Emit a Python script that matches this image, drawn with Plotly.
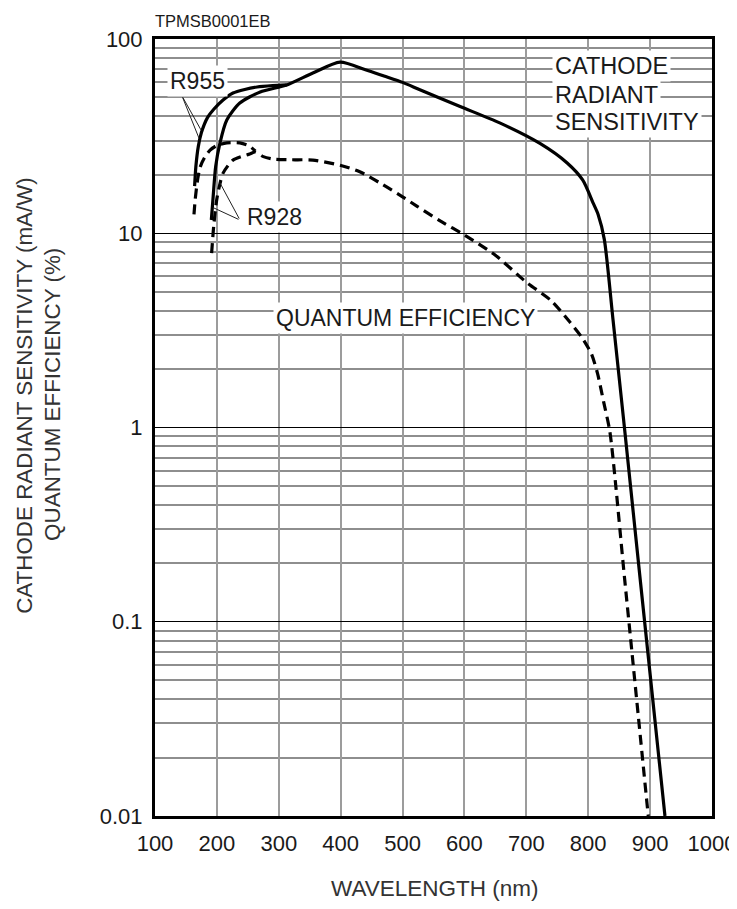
import plotly.graph_objects as go

# ---------------- data ----------------
r955_rad_nm = [164, 166, 170, 175, 185, 195, 210, 226, 245, 265, 290, 313]
r955_rad = [17.5, 22, 28, 33, 39.5, 43.5, 48.5, 52.7, 55, 56.6, 57.5, 58]

r928_rad_nm = [191, 194, 198, 205, 216, 237, 270, 313, 355, 399, 440, 470, 500, 528,
               593, 657, 722, 766, 791, 808, 816, 826, 840, 860, 884, 924]
r928_rad = [11.7, 15.5, 22, 29.2, 38.3, 46.8, 53.4, 58, 66.8, 76, 69.5, 64.5, 59.8, 54.8,
            44.9, 37, 29, 23, 18.8, 14.3, 12.5, 9.3, 3.6, 0.9, 0.165, 0.01]

r955_qe_nm = [163, 165, 169, 173, 180, 189, 200, 216, 237, 252, 262]
r955_qe = [12.5, 15, 19, 21.9, 24.5, 26.8, 28.3, 29.2, 29.2, 28.2, 26.5]

r928_qe_nm = [191.5, 195, 199.6, 205, 210, 226, 253, 262, 275, 291, 320, 355, 399,
              430, 468, 500, 523, 560, 600, 650, 700, 740, 770, 790, 805, 815, 825,
              835, 859, 897]
r928_qe = [7.9, 11, 14.8, 18, 20.4, 23.8, 25.6, 26.2, 24.8, 24.1, 23.9, 23.8, 22.4,
           20.8, 17.8, 15.4, 13.8, 11.6, 9.8, 7.7, 5.6, 4.5, 3.5, 2.9, 2.4, 1.9, 1.35,
           0.95, 0.164, 0.01]

x_ticks = [100, 200, 300, 400, 500, 600, 700, 800, 900, 1000]
x_tick_text = ["100", "200", "300", "400", "500", "600", "700", "800", "900", "1000"]
y_ticks = [0.01, 0.1, 1, 10, 100]
y_tick_text = ["0.01", "0.1", "1", "10", "100"]
y_minor = [m * d for d in (0.01, 0.1, 1, 10) for m in range(2, 10)]
dark_grid_x = [400]

FONT = "Liberation Sans, Arial, sans-serif"
TXT = "#1a1a1a"

fig = go.Figure()
solid = dict(color="black", width=3.2, shape="spline", smoothing=0.7)
dashed = dict(color="black", width=3.2, dash="10px,6px", shape="spline", smoothing=0.7)

fig.add_trace(go.Scatter(x=r928_rad_nm, y=r928_rad, mode="lines", line=solid, name="R928 radiant"))
fig.add_trace(go.Scatter(x=r955_rad_nm, y=r955_rad, mode="lines", line=solid, name="R955 radiant"))
fig.add_trace(go.Scatter(x=r928_qe_nm, y=r928_qe, mode="lines", line=dashed, name="R928 QE"))
fig.add_trace(go.Scatter(x=r955_qe_nm, y=r955_qe, mode="lines", line=dashed, name="R955 QE"))

for xv in dark_grid_x:
    fig.add_shape(type="line", xref="x", yref="paper", x0=xv, x1=xv, y0=0, y1=1,
                  line=dict(color="black", width=1.2), layer="below")

ann = []
def label(text, x, y, xanchor="center", size=23):
    ann.append(dict(text=text, x=x, y=y, xref="x", yref="y", showarrow=False,
                    xanchor=xanchor, yanchor="middle", bgcolor="white", borderpad=2,
                    font=dict(family=FONT, size=size, color=TXT)))

def leader(x_tail, y_tail, x_head, y_head):
    ann.append(dict(text="", x=x_head, y=y_head, ax=x_tail, ay=y_tail,
                    xref="x", yref="y", axref="x", ayref="y", showarrow=True,
                    arrowhead=0, arrowwidth=1, arrowcolor="#222"))

label("R955", 167.9, 1.784)
label("R928", 293, 1.0836)
label("CATHODE", 741, 1.861, xanchor="left", size=23.5)
label("RADIANT", 741, 1.712, xanchor="left", size=23.5)
label("SENSITIVITY", 741, 1.573, xanchor="left", size=23.5)
label("QUANTUM EFFICIENCY", 505.5, 0.5637)

leader(143.6, 1.707, 174.3, 1.532)
leader(143.6, 1.707, 171.0, 1.49)
leader(237.3, 1.068, 205.0, 1.259)
leader(237.3, 1.068, 195.3, 1.13)

ann.append(dict(text="TPMSB0001EB", x=-0.0036, y=1.0232, xref="paper", yref="paper",
                xanchor="left", yanchor="middle", showarrow=False,
                font=dict(family=FONT, size=16.5, color=TXT)))
ann.append(dict(text="CATHODE RADIANT SENSITIVITY (mA/W)", x=-0.2334, y=0.542,
                xref="paper", yref="paper", textangle=-90, showarrow=False,
                xanchor="center", yanchor="middle",
                font=dict(family=FONT, size=22.4, color="#333")))
ann.append(dict(text="QUANTUM EFFICIENCY (%)", x=-0.1831, y=0.542,
                xref="paper", yref="paper", textangle=-90, showarrow=False,
                xanchor="center", yanchor="middle",
                font=dict(family=FONT, size=22.4, color="#333")))
ann.append(dict(text="WAVELENGTH (nm)", x=0.502, y=-0.0927, xref="paper", yref="paper",
                showarrow=False, xanchor="center", yanchor="middle",
                font=dict(family=FONT, size=22.5, color="#333")))

# page body has an 8px margin: shift the figure so the plot lands where the reference has it
fig.update_layout(
    width=729, height=901,
    margin=dict(l=147, r=25, t=31, b=93, autoexpand=False),
    paper_bgcolor="white", plot_bgcolor="white",
    showlegend=False,
    annotations=ann,
    font=dict(family=FONT, size=22, color=TXT),
)
fig.update_xaxes(
    range=[100, 1000], tickvals=x_ticks, ticktext=x_tick_text,
    showgrid=True, gridcolor="#9c9c9c", gridwidth=2.2,
    showline=True, linecolor="black", linewidth=3, mirror=True,
    ticks="", zeroline=False, automargin=False, ticklabelstandoff=6,
    tickfont=dict(family=FONT, size=22, color=TXT),
)
fig.update_yaxes(
    type="log", range=[-2, 2], tickvals=y_ticks, ticktext=y_tick_text,
    showgrid=True, gridcolor="black", gridwidth=1.2,
    minor=dict(tickvals=y_minor, showgrid=True, gridcolor="#8e8e8e", gridwidth=1.8, ticks=""),
    showline=True, linecolor="black", linewidth=3, mirror=True,
    ticks="", zeroline=False, automargin=False, ticklabelstandoff=5,
    tickfont=dict(family=FONT, size=22, color=TXT),
)

fig.write_html("out.html")
